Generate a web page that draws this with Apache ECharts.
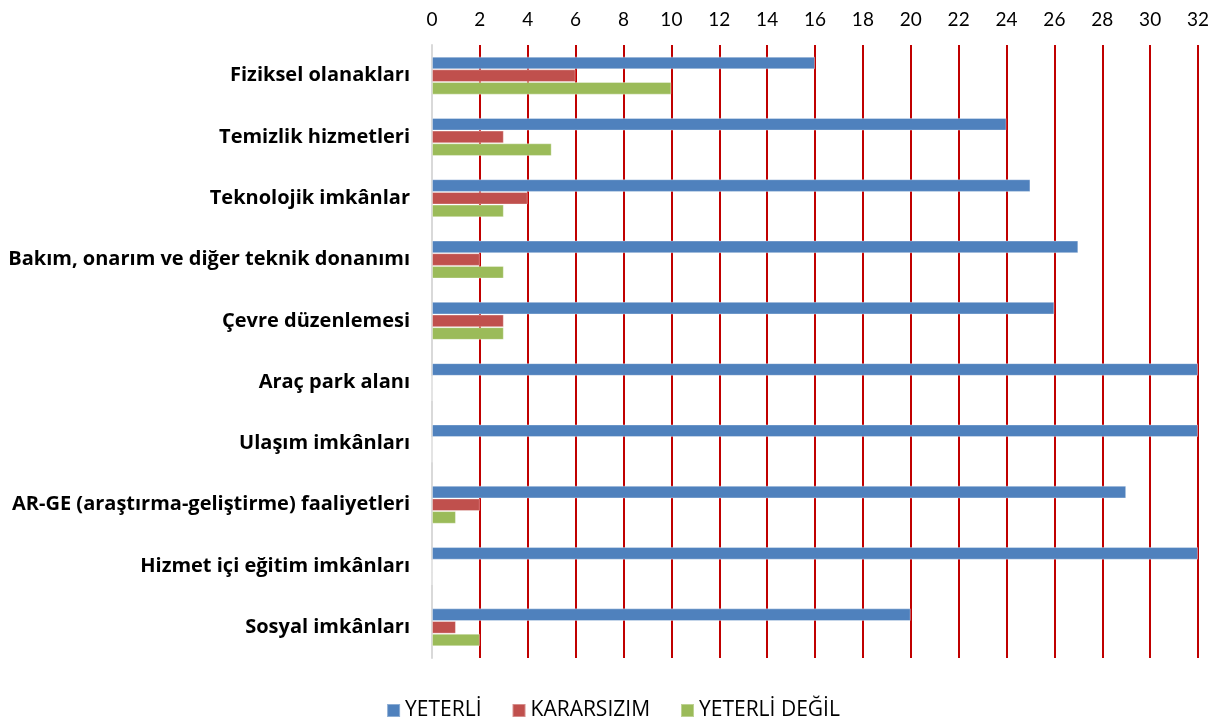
<!DOCTYPE html>
<html>
<head>
<meta charset="utf-8">
<script src="https://cdn.jsdelivr.net/npm/echarts@6/dist/echarts.min.js"></script>
<style>html,body{margin:0;padding:0;background:#fff}#c{width:1226px;height:728px}</style>
</head>
<body>
<div id="c"></div>
<script>
const categories = ["Fiziksel olanakları","Temizlik hizmetleri","Teknolojik imkânlar","Bakım, onarım ve diğer teknik donanımı","Çevre düzenlemesi","Araç park alanı","Ulaşım imkânları","AR-GE (araştırma-geliştirme) faaliyetleri","Hizmet içi eğitim imkânları","Sosyal imkânları"];
const seriesNames = ["YETERLİ","KARARSIZIM","YETERLİ DEĞİL"];
const yeterli = [16,24,25,27,26,32,32,29,32,20];
const kararsizim = [6,3,4,2,3,0,0,2,0,1];
const yeterliDegil = [10,5,3,3,3,0,0,1,0,2];
const colors = ["#4F81BD","#C0504D","#9BBB59"];
const font = "Lato, 'Open Sans', sans-serif";
const font2 = "'Open Sans', sans-serif";

const chart = echarts.init(document.getElementById('c'));
const values = [yeterli, kararsizim, yeterliDegil];
chart.setOption({
  animation:false,
  textStyle:{fontFamily:font},
  grid:{left:432,right:28,top:45,bottom:70,containLabel:false},
  legend:{
    bottom:2,left:'center',itemWidth:13,itemHeight:13,itemGap:30,itemTextGap:7,icon:'rect',
    textStyle:{fontSize:21,color:'#000',fontFamily:font2},
    data:seriesNames
  },
  xAxis:{
    type:'value',position:'top',min:0,max:32,interval:2,
    axisLine:{show:false},axisTick:{show:false},
    axisLabel:{fontSize:19,color:'#000',margin:16,fontFamily:font},
    splitLine:{show:true,lineStyle:{color:'#C00000',width:2}}
  },
  yAxis:{
    type:'category',inverse:true,data:categories,
    axisLine:{show:true,lineStyle:{color:'#D9D9D9',width:2}},
    axisTick:{show:false},
    axisLabel:{fontSize:20,fontWeight:'bold',color:'#000',margin:22,fontFamily:font2}
  },
  series: seriesNames.map((n,i)=>({
    name:n,type:'bar',data:values[i],barGap:'0%',barCategoryGap:'38%',
    itemStyle:{color:colors[i],borderColor:'rgba(255,255,255,0.35)',borderWidth:1}
  }))
});
</script>
</body>
</html>
